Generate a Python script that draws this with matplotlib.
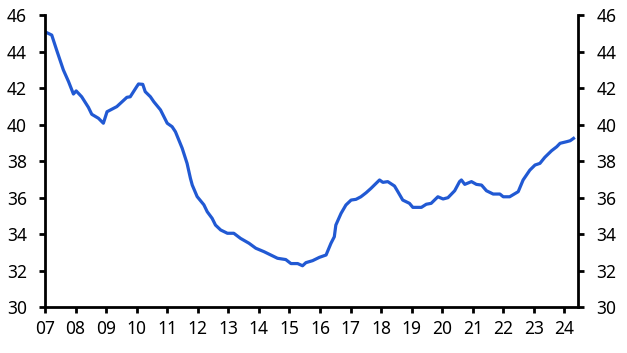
import numpy as np
import matplotlib.pyplot as plt

plt.rcParams['font.family'] = ['Noto Sans', 'DejaVu Sans']

# data (decimal year, value)
years = [2007.0, 2007.22, 2007.38, 2007.6, 2007.77, 2007.93, 2008.02, 2008.2, 2008.42,
         2008.53, 2008.75, 2008.91, 2009.03, 2009.35, 2009.68, 2009.79, 2010.0, 2010.06,
         2010.2, 2010.28, 2010.45, 2010.56, 2010.78, 2011.0, 2011.16, 2011.27, 2011.49,
         2011.65, 2011.76, 2011.82, 2011.98, 2012.2, 2012.31, 2012.47, 2012.58, 2012.75,
         2012.97, 2013.18, 2013.4, 2013.68, 2013.9, 2014.17, 2014.39, 2014.61, 2014.88,
         2015.05, 2015.27, 2015.43, 2015.54, 2015.76, 2015.98, 2016.2, 2016.36, 2016.47,
         2016.52, 2016.69, 2016.85, 2017.02, 2017.18, 2017.34, 2017.51, 2017.67, 2017.84,
         2017.95, 2018.06, 2018.22, 2018.44, 2018.55, 2018.71, 2018.93, 2019.04, 2019.32,
         2019.48, 2019.64, 2019.86, 2020.03, 2020.19, 2020.41, 2020.57, 2020.63, 2020.74,
         2020.96, 2021.12, 2021.29, 2021.45, 2021.67, 2021.89, 2022.0, 2022.21, 2022.49,
         2022.65, 2022.87, 2023.04, 2023.2, 2023.36, 2023.58, 2023.75, 2023.86, 2024.08,
         2024.19, 2024.3]
values = [45.08, 44.9, 44.08, 42.99, 42.35, 41.67, 41.84, 41.52, 40.94,
          40.56, 40.34, 40.07, 40.7, 40.98, 41.49, 41.52, 42.07, 42.22,
          42.2, 41.8, 41.52, 41.25, 40.8, 40.07, 39.88, 39.6, 38.7,
          37.87, 37.05, 36.68, 36.05, 35.6, 35.22, 34.86, 34.49, 34.22,
          34.04, 34.04, 33.76, 33.49, 33.22, 33.03, 32.85, 32.67, 32.6,
          32.38, 32.38, 32.26, 32.43, 32.54, 32.72, 32.85, 33.49, 33.85,
          34.49, 35.13, 35.59, 35.86, 35.9, 36.04, 36.26, 36.5, 36.78,
          36.96, 36.83, 36.87, 36.63, 36.32, 35.86, 35.68, 35.46, 35.46,
          35.63, 35.68, 36.04, 35.92, 35.99, 36.37, 36.87, 36.96, 36.72,
          36.87, 36.72, 36.68, 36.37, 36.19, 36.19, 36.04, 36.04, 36.32,
          36.96, 37.5, 37.78, 37.87, 38.2, 38.56, 38.78, 38.97, 39.06,
          39.11, 39.24]

xtick_years = list(range(2007, 2025))
xtick_labels = ['%02d' % (y % 100) for y in xtick_years]
yticks = list(range(30, 47, 2))

fig = plt.figure(figsize=(6.27, 3.53), dpi=100)
ax = fig.add_axes([0.0718, 0.1303, 0.8502, 0.8272])
ax.plot(years, values, color='#2159d3', lw=2.3, solid_joinstyle='round')

ax.set_xlim(2007, 2024.45)
ax.set_ylim(30, 46)
ax.set_xticks(xtick_years)
ax.set_xticklabels(xtick_labels)
ax.set_yticks(yticks)
ax.spines['top'].set_visible(False)
for s in ['left', 'right', 'bottom']:
    ax.spines[s].set_linewidth(2.0)
ax.tick_params(axis='both', direction='out', length=4.5, width=2.0, labelsize=12.5)
ax.tick_params(axis='y', left=True, right=True, labelright=True, pad=8.5)
ax.tick_params(axis='x', pad=5)

fig.savefig('out.png', dpi=100)
